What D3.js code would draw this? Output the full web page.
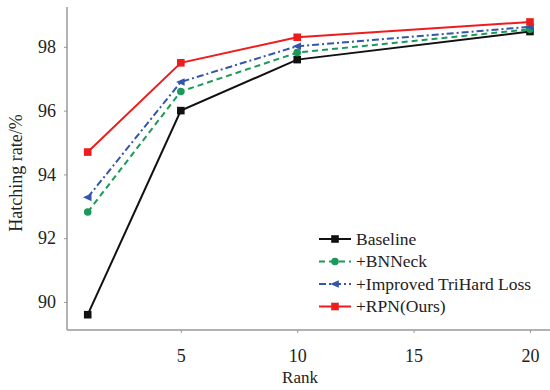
<!DOCTYPE html>
<html><head><meta charset="utf-8">
<script src="https://cdn.jsdelivr.net/npm/d3@7"></script>
<style>body{margin:0;background:#fff;} svg{display:block;}</style>
</head><body>
<script>
const ranks = [1, 5, 10, 20];
const seriesNames = ["Baseline", "+BNNeck", "+Improved TriHard Loss", "+RPN(Ours)"];
const baseline = [89.6, 96.0, 97.6, 98.48];
const bnneck = [92.82, 96.6, 97.82, 98.55];
const trihard = [93.28, 96.9, 98.02, 98.63];
const rpn = [94.7, 97.5, 98.3, 98.78];
const xTicks = [5, 10, 15, 20];
const yTicks = [90, 92, 94, 96, 98];
const colors = ["#111111", "#1a9a5a", "#3355aa", "#ee1c1c"];
const dashes = [null, "6,4", "7,3,2,3", null];
const markers = ["square", "circle", "triangle", "square"];

const W = 550, H = 390;
const svg = d3.select("body").append("svg").attr("width", W).attr("height", H);
const x = d3.scaleLinear().domain([0.11, 20.86]).range([67, 550]);
const y = d3.scaleLinear().domain([89.12, 99.25]).range([330, 7]);
const font = "'Liberation Serif', 'DejaVu Serif', serif";

// axes
const yAxis = d3.axisLeft(y).tickValues(yTicks).tickSize(3).tickPadding(8).tickFormat(d3.format("d"));
const gy = svg.append("g").attr("transform", "translate(67,0)").call(yAxis);
const xAxis = d3.axisBottom(x).tickValues(xTicks).tickSize(3).tickPadding(16);
const gx = svg.append("g").attr("transform", "translate(0,330)").call(xAxis);
[gx, gy].forEach(g => {
  g.select(".domain").attr("stroke", "#999").attr("stroke-width", 1.5);
  g.selectAll(".tick line").attr("stroke", "#999");
  g.selectAll("text").attr("fill", "#222").style("font-family", font).style("font-size", "18px");
});
gy.select(".domain").attr("d", "M0,7V330");
gx.select(".domain").attr("d", "M67,0H550");

svg.append("text").attr("x", 300).attr("y", 383).attr("text-anchor", "middle")
  .style("font-family", font).style("font-size", "17px").attr("fill", "#222").text("Rank");
svg.append("text").attr("transform", "translate(22,173) rotate(-90)").attr("text-anchor", "middle")
  .style("font-family", font).style("font-size", "18px").attr("fill", "#222").text("Hatching rate/%");

const data = [baseline, bnneck, trihard, rpn];
const line = d3.line().x((d, i) => x(ranks[i])).y(d => y(d));

function drawMarker(g, type, cx, cy, color, s) {
  if (type === "square") {
    g.append("rect").attr("x", cx - s).attr("y", cy - s).attr("width", 2 * s).attr("height", 2 * s).attr("fill", color);
  } else if (type === "circle") {
    g.append("circle").attr("cx", cx).attr("cy", cy).attr("r", s).attr("fill", color);
  } else {
    g.append("path").attr("d", `M${cx - s - 1},${cy}L${cx + s},${cy - s}L${cx + s},${cy + s}Z`).attr("fill", color);
  }
}

data.forEach((vals, k) => {
  const g = svg.append("g");
  g.append("path").datum(vals).attr("d", line).attr("fill", "none")
    .attr("stroke", colors[k]).attr("stroke-width", 2)
    .attr("stroke-dasharray", dashes[k]);
  vals.forEach((v, i) => drawMarker(g, markers[k], x(ranks[i]), y(v), colors[k], 3.8));
});

// legend
const lg = svg.append("g");
seriesNames.forEach((name, k) => {
  const ly = 239 + k * 22.5;
  lg.append("line").attr("x1", 319).attr("x2", 351).attr("y1", ly).attr("y2", ly)
    .attr("stroke", colors[k]).attr("stroke-width", 2).attr("stroke-dasharray", dashes[k]);
  drawMarker(lg, markers[k], 335, ly, colors[k], 3.8);
  lg.append("text").attr("x", 356).attr("y", ly + 5.5).style("font-family", font)
    .style("font-size", "17.5px").attr("fill", "#222").text(name);
});
</script>
</body></html>
